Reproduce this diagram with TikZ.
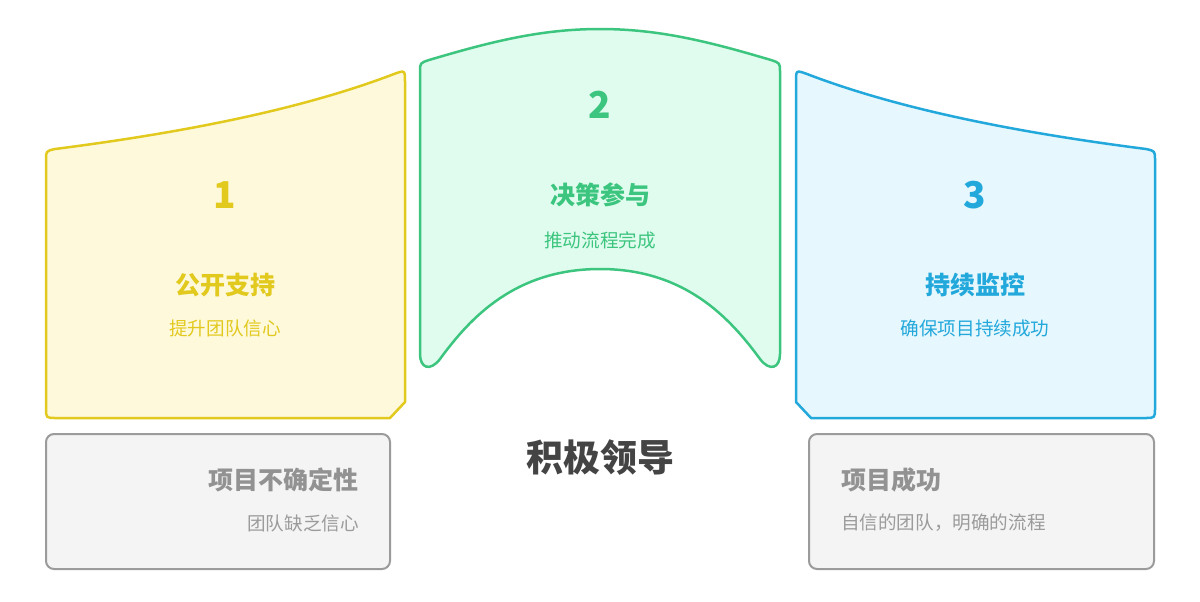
\documentclass[tikz,border=0pt]{standalone}
\usepackage{fontspec}
\setmainfont{Noto Sans CJK SC}
\usetikzlibrary{positioning}

\definecolor{yline}{HTML}{E2C91E}
\definecolor{yfill}{HTML}{FFF9DC}
\definecolor{gline}{HTML}{3CC57E}
\definecolor{gfill}{HTML}{E0FCEE}
\definecolor{bline}{HTML}{22A8DB}
\definecolor{bfill}{HTML}{E6F7FE}
\definecolor{kline}{HTML}{9B9B9B}
\definecolor{kfill}{HTML}{F4F4F4}
\definecolor{ktext}{HTML}{929292}
\definecolor{darktext}{HTML}{444444}

\begin{document}
\begin{tikzpicture}[
  x=0.5pt, y=-0.5pt,
  panel/.style={line width=1.25pt, line join=round},
  greybox/.style={draw=kline, fill=kfill, line width=1pt, rounded corners=4pt},
  numtxt/.style={font=\fontsize{18.5}{20}\selectfont\bfseries},
  headtxt/.style={font=\fontsize{12.5}{14}\selectfont\bfseries},
  subtxt/.style={font=\fontsize{9.3}{11}\selectfont},
  maintxt/.style={font=\fontsize{18.5}{20}\selectfont\bfseries, text=darktext}
]
\useasboundingbox (0,0) rectangle (1200,601);

% stage 1
\draw[panel, draw=yline, fill=yfill] (46,408) -- (46,160) .. controls (46,151) .. (55,149)
  .. controls (180,133) and (300,110) .. (394,74) .. controls (405,70) .. (405,82)
  -- (405,402) -- (390,418) -- (56,418) .. controls (46,418) .. (46,408) -- cycle;
% stage 2
\draw[panel, draw=gline, fill=gfill] (420,72) .. controls (420,63) .. (429,60)
  .. controls (490,42) and (540,29) .. (600,29) .. controls (660,29) and (710,42) .. (771,60)
  .. controls (780,63) .. (780,72) -- (780,354) .. controls (780,368) and (770,372) .. (760,359)
  .. controls (730,318) and (685,269) .. (600,269) .. controls (515,269) and (470,318) .. (440,359)
  .. controls (430,372) and (420,368) .. (420,354) -- cycle;
% stage 3
\draw[panel, draw=bline, fill=bfill] (1155,408) -- (1155,160) .. controls (1155,151) .. (1146,149)
  .. controls (1021,133) and (901,110) .. (807,74) .. controls (796,70) .. (796,82)
  -- (796,402) -- (811,418) -- (1145,418) .. controls (1155,418) .. (1155,408) -- cycle;

% before / after
\draw[greybox] (46,434) rectangle (390,569);
\draw[greybox] (809,434) rectangle (1154,569);

\node[numtxt, text=yline] (n1) at (225,195) {1};
\node[headtxt, text=yline] (h1) at (225,285) {公开支持};
\node[subtxt, text=yline] (s1) at (225,328) {提升团队信心};

\node[numtxt, text=gline] (n2) at (600,105) {2};
\node[headtxt, text=gline] (h2) at (600,195) {决策参与};
\node[subtxt, text=gline] (s2) at (600,240) {推动流程完成};

\node[numtxt, text=bline] (n3) at (975,195) {3};
\node[headtxt, text=bline] (h3) at (975,285) {持续监控};
\node[subtxt, text=bline] (s3) at (975,328) {确保项目持续成功};

\node[maintxt] (lead) at (600,458) {积极领导};

\node[headtxt, text=ktext, anchor=east] (before) at (366,480) {项目不确定性};
\node[subtxt, text=kline, anchor=east] (beforesub) at (366,523) {团队缺乏信心};
\node[headtxt, text=ktext, anchor=west] (after) at (834,480) {项目成功};
\node[subtxt, text=kline, anchor=west] (aftersub) at (834,523) {自信的团队，明确的流程};
\end{tikzpicture}
\end{document}
